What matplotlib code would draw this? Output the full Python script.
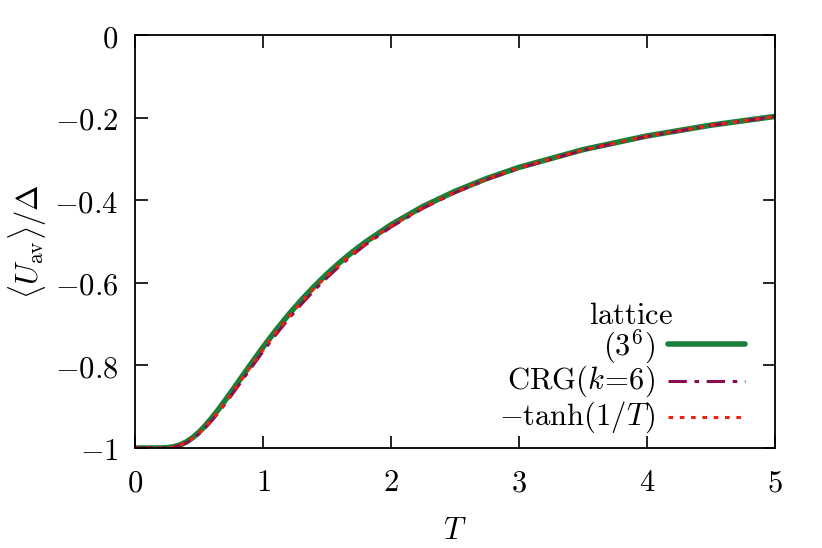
import matplotlib
matplotlib.use("Agg")
import matplotlib.pyplot as plt

plt.rcParams['mathtext.fontset'] = 'cm'
plt.rcParams['font.family'] = 'serif'
plt.rcParams['font.size'] = 22

# temperature grid
T = [0.0, 0.1, 0.2, 0.25, 0.3, 0.35, 0.4, 0.45, 0.5, 0.55, 0.6, 0.65, 0.7, 0.75, 0.8, 0.9,
     1.0, 1.1, 1.2, 1.3, 1.4, 1.5, 1.6, 1.7, 1.8, 2.0, 2.25, 2.5, 2.75, 3.0, 3.5, 4.0, 4.5, 5.0]

# -tanh(1/T) values
u_tanh = [-1.0, -1.0, -0.9999, -0.9993, -0.9975, -0.9934, -0.9866, -0.9768, -0.9640, -0.9486,
          -0.9311, -0.9119, -0.8914, -0.8701, -0.8483, -0.8045, -0.7616, -0.7207, -0.6823,
          -0.6465, -0.6134, -0.5828, -0.5546, -0.5286, -0.5047, -0.4621, -0.4173, -0.3800,
          -0.3484, -0.3215, -0.2782, -0.2449, -0.2186, -0.1974]

# lattice (3^6): a hair above the tanh curve in the middle region
u_lattice = [-1.0, -1.0, -0.9999, -0.9992, -0.9972, -0.9928, -0.9855, -0.9750, -0.9615, -0.9455,
             -0.9272, -0.9075, -0.8865, -0.8650, -0.8430, -0.7990, -0.7560, -0.7152, -0.6770,
             -0.6415, -0.6088, -0.5785, -0.5507, -0.5250, -0.5015, -0.4595, -0.4152, -0.3785,
             -0.3472, -0.3205, -0.2776, -0.2444, -0.2183, -0.1972]

# CRG(k=6): a hair below
u_crg = [-1.0, -1.0, -0.9999, -0.9994, -0.9978, -0.9940, -0.9876, -0.9782, -0.9660, -0.9510,
         -0.9340, -0.9152, -0.8950, -0.8740, -0.8525, -0.8090, -0.7665, -0.7258, -0.6875,
         -0.6518, -0.6185, -0.5876, -0.5590, -0.5326, -0.5082, -0.4650, -0.4195, -0.3818,
         -0.3497, -0.3225, -0.2789, -0.2454, -0.2190, -0.1976]

xticks = [0, 1, 2, 3, 4, 5]
xtick_labels = ['$0$', '$1$', '$2$', '$3$', '$4$', '$5$']
yticks = [-1, -0.8, -0.6, -0.4, -0.2, 0]
ytick_labels = ['$-1$', '$-0.8$', '$-0.6$', '$-0.4$', '$-0.2$', '$0$']

c_lattice = '#1a7f37'
c_crg = '#8b0d4f'
c_tanh = '#ee2211'

fig = plt.figure(figsize=(8.22, 5.48), dpi=100)
ax = fig.add_axes([135 / 822, 1 - 448 / 548, 640 / 822, 413 / 548])

ax.plot(T, u_lattice, color=c_lattice, lw=4.0, solid_capstyle='round')
ax.plot(T, u_crg, color=c_crg, lw=2.2, dashes=(6, 2.5, 1.5, 2.5))
ax.plot(T, u_tanh, color=c_tanh, lw=2.2, dashes=(1.5, 2.2))

ax.set_xlim(0, 5)
ax.set_ylim(-1, 0)
ax.set_xticks(xticks)
ax.set_xticklabels(xtick_labels)
ax.set_yticks(yticks)
ax.set_yticklabels(ytick_labels)
ax.tick_params(direction='in', length=9, width=1.2, top=True, right=True)
ax.tick_params(axis='x', pad=14)
ax.tick_params(axis='y', pad=12)
for s in ax.spines.values():
    s.set_linewidth(1.3)

ax.set_xlabel('$T$', labelpad=12)
ax.set_ylabel(r'$\langle U_{\rm av}\rangle/\Delta$', labelpad=4)

# hand-made legend, text right aligned like the original
tx = 0.8125
lx = [0.833, 0.953]
ax.text(0.775, 0.322, r'$\mathrm{lattice}$', transform=ax.transAxes, ha='center', va='center')
ax.text(tx, 0.245, r'$(3^6)$', transform=ax.transAxes, ha='right', va='center')
ax.plot(lx, [0.252, 0.252], transform=ax.transAxes, color=c_lattice, lw=4.0, solid_capstyle='round')
ax.text(tx, 0.162, r'$\mathrm{CRG}(k\!=\!6)$', transform=ax.transAxes, ha='right', va='center')
ax.plot(lx, [0.162, 0.162], transform=ax.transAxes, color=c_crg, lw=2.2, dashes=(6, 2.5, 1.5, 2.5))
ax.text(tx, 0.075, r'$-\mathrm{tanh}(1/T)$', transform=ax.transAxes, ha='right', va='center')
ax.plot(lx, [0.075, 0.075], transform=ax.transAxes, color=c_tanh, lw=2.2, dashes=(1.5, 2.2))

fig.savefig('out.png', dpi=100)
